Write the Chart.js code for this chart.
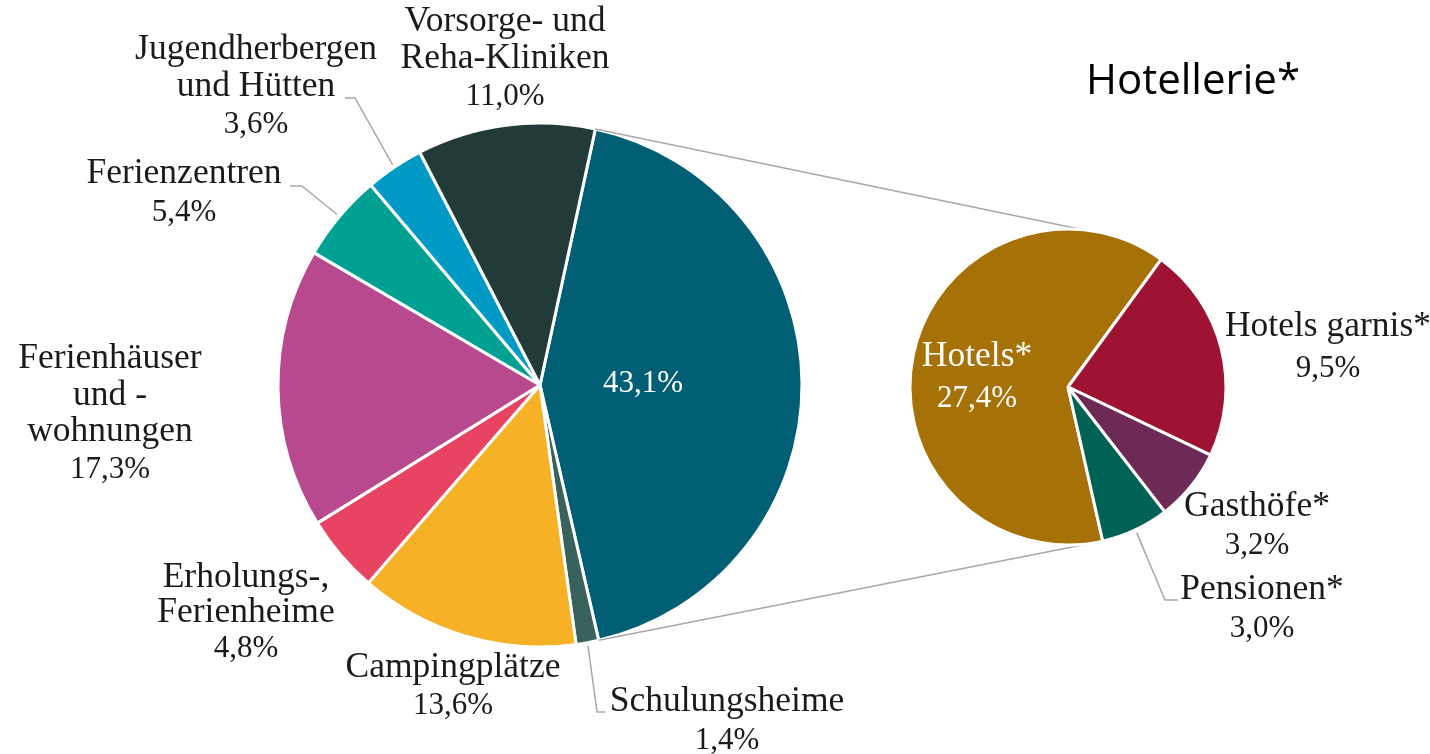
<!DOCTYPE html>
<html>
<head>
<meta charset="utf-8">
<script src="https://cdn.jsdelivr.net/npm/chart.js@4.4.1/dist/chart.umd.min.js"></script>
<style>
  body { margin: 0; background: #fff; }
  #wrap { position: relative; width: 1430px; height: 754px; }
  canvas { position: absolute; left: 0; top: 0; }
</style>
</head>
<body>
<div id="wrap">
  <canvas id="hauptKreis" width="1430" height="754"></canvas>
  <canvas id="teilKreis" width="1430" height="754"></canvas>
</div>
<script>
// Daten: Hauptkreis (Anteile in %)
const mainLabels = ['Hotellerie', 'Schulungsheime', 'Campingplätze', 'Erholungs-,\nFerienheime',
  'Ferienhäuser\nund -\nwohnungen', 'Ferienzentren', 'Jugendherbergen\nund Hütten', 'Vorsorge- und\nReha-Kliniken'];
const mainValues = [43.1, 1.4, 13.6, 4.8, 17.3, 5.4, 3.6, 11.0];
const mainColors = ['#005f75', '#3a625d', '#f7b126', '#e84363', '#b9498f', '#00a093', '#009ac5', '#233b38'];

// Daten: Hotellerie aufgeteilt
const subLabels = ['Hotels*', 'Hotels garnis*', 'Gasthöfe*', 'Pensionen*'];
const subValues = [27.4, 9.5, 3.2, 3.0];
const subColors = ['#a67107', '#9e1331', '#6d2a56', '#006254'];

const subTitle = 'Hotellerie*';

// Beschriftungs-Layout (Mitte x, erste Zeile y, Zeilenabstand)
const mainLabelPos = [
  { x: 643, y: 383, gap: 37, white: true, onlyPct: true },
  { x: 727, y: 702, gap: 38 },
  { x: 453, y: 668, gap: 37 },
  { x: 246, y: 578, gap: 35 },
  { x: 110, y: 359, gap: 36.5 },
  { x: 184, y: 174, gap: 38 },
  { x: 256, y: 50, gap: 37 },
  { x: 505, y: 22, gap: 37 }
];
const subLabelPos = [
  { x: 977, y: 357, gap: 41, white: true },
  { x: 1328, y: 327, gap: 41 },
  { x: 1257, y: 507, gap: 38 },
  { x: 1262, y: 590, gap: 38 }
];
// Führungslinien: Knick und Ende
const mainLeaders = {
  1: [[597, 712], [605, 712]],
  5: [[302, 186], [290, 186]],
  6: [[355, 98], [345, 98]]
};
const subLeaders = {
  3: [[1165, 600], [1178, 600]]
};

const fmt = v => v.toFixed(1).replace('.', ',') + '%';
const LINE = '#a8a8a8';
const FONT = '35.5px "Liberation Serif", "Times New Roman", serif';
const PCT_FONT = '31px "Liberation Serif", "Times New Roman", serif';

function drawLabels(chart, labels, values, pos, leaders) {
  const ctx = chart.ctx;
  const arcs = chart.getDatasetMeta(0).data;
  ctx.save();
  // Führungslinien
  ctx.strokeStyle = LINE;
  ctx.lineWidth = 1.5;
  Object.keys(leaders).forEach(k => {
    const a = arcs[k];
    const mid = (a.startAngle + a.endAngle) / 2;
    const r = a.outerRadius + 3;
    ctx.beginPath();
    ctx.moveTo(a.x + Math.cos(mid) * r, a.y + Math.sin(mid) * r);
    leaders[k].forEach(p => ctx.lineTo(p[0], p[1]));
    ctx.stroke();
  });
  // Texte
  ctx.textAlign = 'center';
  ctx.textBaseline = 'middle';
  labels.forEach((lab, i) => {
    const p = pos[i];
    const lines = p.onlyPct ? [] : lab.split('\n');
    ctx.fillStyle = p.white ? '#ffffff' : '#1a1a1a';
    ctx.font = FONT;
    lines.forEach((t, j) => ctx.fillText(t, p.x, p.y + j * p.gap));
    ctx.font = PCT_FONT;
    ctx.fillText(fmt(values[i]), p.x, p.y + lines.length * p.gap + 1);
  });
  ctx.restore();
}

const baseOptions = {
  responsive: false,
  animation: false,
  events: [],
  plugins: { legend: { display: false }, tooltip: { enabled: false } }
};

const hauptChart = new Chart(document.getElementById('hauptKreis'), {
  type: 'pie',
  data: {
    labels: mainLabels,
    datasets: [{
      data: mainValues,
      backgroundColor: mainColors,
      borderColor: '#ffffff',
      borderWidth: 3
    }]
  },
  options: {
    ...baseOptions,
    rotation: 12.2,
    radius: 262,
    layout: { padding: { left: 278, right: 628, top: 123, bottom: 107 } }
  },
  plugins: [{
    id: 'hauptLabels',
    afterDatasetsDraw(chart) {
      drawLabels(chart, mainLabels, mainValues, mainLabelPos, mainLeaders);
    }
  }]
});

new Chart(document.getElementById('teilKreis'), {
  type: 'pie',
  data: {
    labels: subLabels,
    datasets: [{
      data: subValues,
      backgroundColor: subColors,
      borderColor: '#ffffff',
      borderWidth: 3
    }]
  },
  options: {
    ...baseOptions,
    rotation: 167.3,
    radius: 158,
    layout: { padding: { left: 910, right: 204, top: 229, bottom: 209 } }
  },
  plugins: [{
    id: 'teilLabels',
    beforeDatasetsDraw(chart) {
      // Verbindungslinien zwischen den Kreisen
      const ctx = chart.ctx;
      const big = hauptChart.getDatasetMeta(0).data[0];
      const small = chart.getDatasetMeta(0).data[0];
      const deg = Math.PI / 180;
      const ends = [[big.startAngle, -90 + 5], [big.endAngle, -90 + 172]];
      ctx.save();
      ctx.strokeStyle = LINE;
      ctx.lineWidth = 1.5;
      ends.forEach(([a, b]) => {
        ctx.beginPath();
        ctx.moveTo(big.x + Math.cos(a) * big.outerRadius, big.y + Math.sin(a) * big.outerRadius);
        ctx.lineTo(small.x + Math.cos(b * deg) * small.outerRadius, small.y + Math.sin(b * deg) * small.outerRadius);
        ctx.stroke();
      });
      ctx.restore();
    },
    afterDatasetsDraw(chart) {
      drawLabels(chart, subLabels, subValues, subLabelPos, subLeaders);
      const ctx = chart.ctx;
      ctx.save();
      ctx.font = '42px "Open Sans", sans-serif';
      ctx.fillStyle = '#000';
      ctx.textAlign = 'center';
      ctx.textBaseline = 'middle';
      ctx.fillText(subTitle, 1193, 82);
      ctx.restore();
    }
  }]
});
</script>
</body>
</html>
